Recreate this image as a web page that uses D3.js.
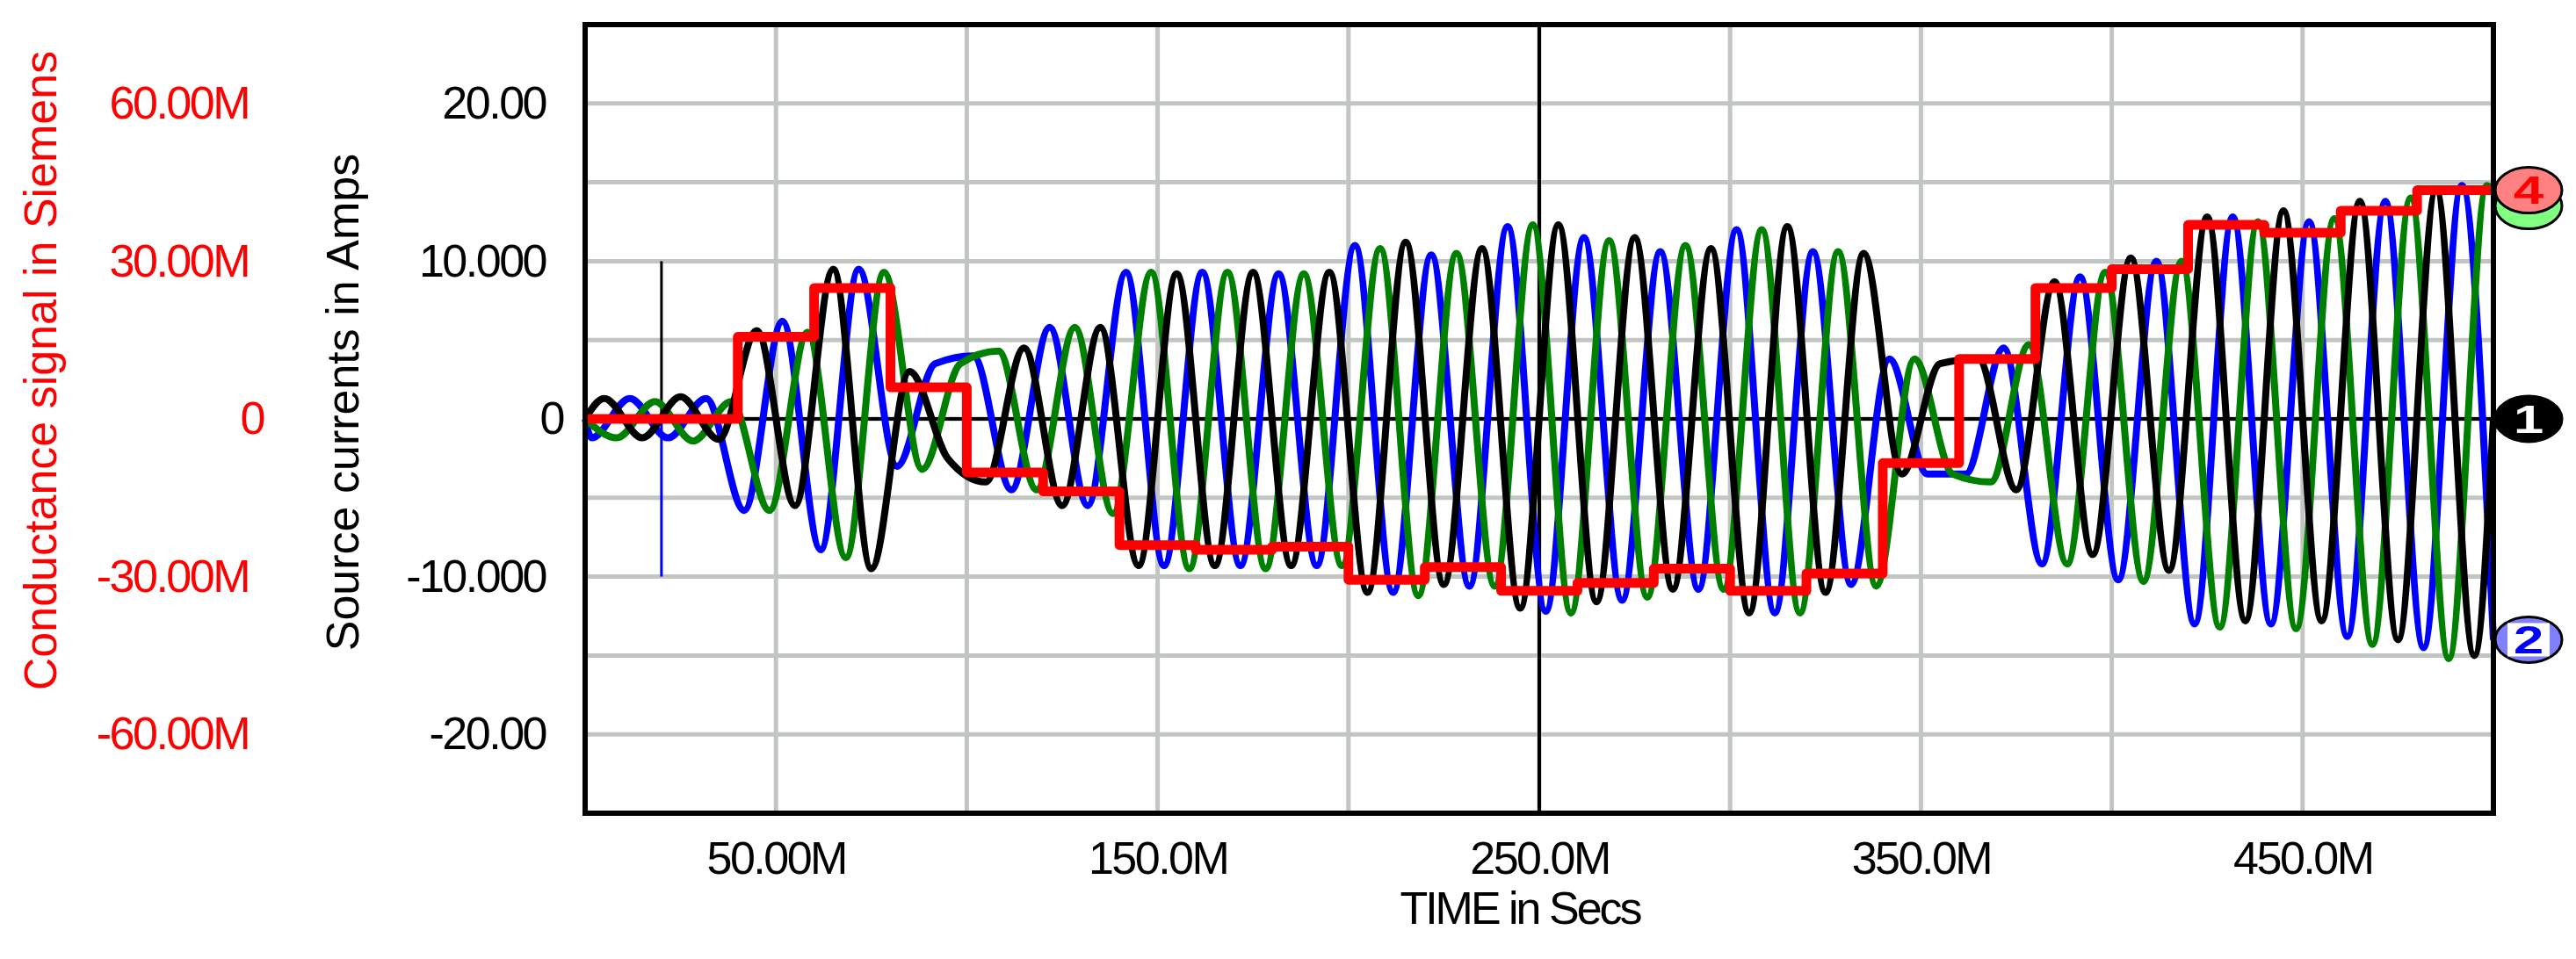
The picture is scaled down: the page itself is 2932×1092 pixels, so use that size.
<!DOCTYPE html>
<html>
<head>
<meta charset="utf-8">
<script src="https://cdn.jsdelivr.net/npm/d3@7"></script>
<style>
  html, body { margin: 0; padding: 0; background: #fff; }
  svg text { font-family: "Liberation Sans", Arial, sans-serif; }
</style>
</head>
<body>
<svg id="chart" width="2932" height="1092"></svg>
<script>
// time in M (milli) seconds, currents in Amps, conductance in M Siemens
const xTicks = [50, 150, 250, 350, 450]
const xTickLabels = ['50.00M', '150.0M', '250.0M', '350.0M', '450.0M']
const yTicks = [20, 10, 0, -10, -20]
const yTickLabels = ['20.00', '10.000', '0', '-10.000', '-20.00']
const gTicks = [60, 30, 0, -30, -60]
const gTickLabels = ['60.00M', '30.00M', '0', '-30.00M', '-60.00M']

// conductance signal steps (start time, level in M Siemens)
const stepTimes = [0, 40, 60, 80, 100, 120, 140, 160, 180, 200, 220, 240, 260, 280, 300, 320, 340, 360, 380, 400, 420, 440, 460, 480, 500]
const stepLevels = [0, 15.6, 24.9, 6, -10.2, -13.8, -24, -24.9, -24.3, -30.6, -28.2, -32.7, -31.2, -28.5, -32.7, -29.4, -8.4, 11.4, 24.9, 28.5, 36.9, 35.4, 39.6, 43.5, 43.5]

// current extremes, one every 10M starting at the given offset
const blackOffset = 5
const blackExtremes = [1.3, -1.2, 1.4, -1.3, 5.6, -5.5, 9.5, -9.5, 3, -2.5,
  -4, 4.5, -5.5, 5.8, -9.3, 9.2, -9.3, 9.3, -9.3, 9.3,
  -11, 11.2, -10.5, 10.8, -12, 12.3, -11.6, 11.5, -10.8, 10.8,
  -12.3, 12.2, -11, 10.5, -3.5, 3.5, 3.8, -4.5, 8.7, -8.6,
  10.2, -9.6, 12.8, -12.8, 13.2, -12.8, 13.8, -14, 14.5, -15]
const blueOffset = 1.7
const blueExtremes = [-1.2, 1.3, -1.2, 1.3, -5.8, 6.2, -8.3, 9.5, -3, 3.5,
  4, -4.5, 5.8, -5.5, 9.3, -9.3, 9.3, -9.3, 9.2, -9.3,
  11, -11, 10.4, -10.6, 12.2, -12.2, 11.5, -11.5, 10.6, -10.8,
  12, -12.3, 10.6, -10.5, 3.8, -3.5, -3.5, 4.5, -9.2, 9.0,
  -10.2, 10, -13, 12.8, -13, 12.5, -13.8, 13.8, -14.5, 14.8]
const greenOffset = 8.3
const greenExtremes = [-1.2, 1.1, -1.4, 1.1, -5.8, 5.5, -8.8, 9.3, -3.2, 3.5,
  4.3, -4.5, 5.8, -6, 9.3, -9.5, 9.3, -9.5, 9.2, -9.3,
  10.8, -11.2, 10.5, -10.6, 12.3, -12.3, 11.3, -11.3, 11, -10.8,
  12, -12.3, 10.6, -10.6, 3.8, -3.5, -4, 4.7, -9.2, 9.3,
  -10.3, 10, -13.2, 12.5, -13.3, 12.7, -14.3, 14, -15.2, 14.8]
const endValues = { blue: -14, green: 14.5, black: 0 }

// switching spikes near 20M
const spikeTime = 20
const spikeBlack = 10
const spikeBlue = -10

const svg = d3.select('#chart')
const box = { left: 666, right: 2838, top: 28, bottom: 926 }

const x = d3.scaleLinear().domain([0, 500]).range([box.left, box.right])
const y = d3.scaleLinear().domain([-25, 25]).range([box.bottom, box.top])
const yG = d3.scaleLinear().domain([-75, 75]).range([box.bottom, box.top])

// grid
const grid = svg.append('g').attr('stroke', '#c2c6c2').attr('stroke-width', 5)
grid.selectAll('line.h').data(d3.range(-20, 21, 5)).join('line')
  .attr('x1', box.left).attr('x2', box.right).attr('y1', y).attr('y2', y)
grid.selectAll('line.v').data(d3.range(50, 500, 50)).join('line')
  .attr('y1', box.top).attr('y2', box.bottom).attr('x1', x).attr('x2', x)

svg.append('line').attr('x1', box.left).attr('x2', box.right).attr('y1', y(0)).attr('y2', y(0))
  .attr('stroke', '#000').attr('stroke-width', 4)
svg.append('line').attr('x1', x(250)).attr('x2', x(250)).attr('y1', box.top).attr('y2', box.bottom)
  .attr('stroke', '#000').attr('stroke-width', 4)

const plot = svg.append('g')

plot.append('line').attr('x1', x(spikeTime)).attr('x2', x(spikeTime))
  .attr('y1', y(0)).attr('y2', y(spikeBlue)).attr('stroke', '#0000ff').attr('stroke-width', 3)
plot.append('line').attr('x1', x(spikeTime)).attr('x2', x(spikeTime))
  .attr('y1', y(0)).attr('y2', y(spikeBlack)).attr('stroke', '#000').attr('stroke-width', 3)

const toPoints = (offset, values, end) => [[0, 0], ...values.map((v, i) => [offset + 10 * i, v]), [500, end]]

const line = d3.line().x(d => x(d[0])).y(d => y(d[1])).curve(d3.curveMonotoneX)

const series = [
  { color: '#0000ff', points: toPoints(blueOffset, blueExtremes, endValues.blue) },
  { color: '#008000', points: toPoints(greenOffset, greenExtremes, endValues.green) },
  { color: '#000000', points: toPoints(blackOffset, blackExtremes, endValues.black) },
]
series.forEach(s => plot.append('path').datum(s.points)
  .attr('d', line).attr('fill', 'none').attr('stroke', s.color)
  .attr('stroke-width', 8).attr('stroke-linejoin', 'round'))

const stepLine = d3.line().x((d, i) => x(stepTimes[i])).y(d => yG(d)).curve(d3.curveStepAfter)
plot.append('path').datum(stepLevels).attr('d', stepLine)
  .attr('fill', 'none').attr('stroke', '#ff0000').attr('stroke-width', 11)
  .attr('stroke-linejoin', 'round')

// frame
svg.append('rect').attr('x', box.left).attr('y', box.top)
  .attr('width', box.right - box.left).attr('height', box.bottom - box.top)
  .attr('fill', 'none').attr('stroke', '#000').attr('stroke-width', 6)

// axes
const styleAxis = (g, color) => {
  g.select('.domain').remove()
  g.selectAll('.tick line').remove()
  g.selectAll('.tick text').attr('fill', color)
    .style('font-size', '52px').style('font-family', '"Liberation Sans", Arial, sans-serif')
    .attr('letter-spacing', -2.5)
}
svg.append('g').attr('transform', `translate(0,${box.bottom})`)
  .call(d3.axisBottom(x).tickValues(xTicks).tickFormat((d, i) => xTickLabels[i]).tickSize(0).tickPadding(32))
  .call(g => styleAxis(g, '#000'))
svg.append('g').attr('transform', 'translate(621,0)')
  .call(d3.axisLeft(y).tickValues(yTicks).tickFormat((d, i) => yTickLabels[i]).tickSize(0).tickPadding(0))
  .call(g => styleAxis(g, '#000'))
  .call(g => g.selectAll('.tick text').attr('dx', d => d === 0 ? 20 : 0))
svg.append('g').attr('transform', 'translate(283,0)')
  .call(d3.axisLeft(yG).tickValues(gTicks).tickFormat((d, i) => gTickLabels[i]).tickSize(0).tickPadding(0))
  .call(g => styleAxis(g, '#ff0000'))
  .call(g => g.selectAll('.tick text').attr('dx', d => d === 0 ? 17 : 0))

// titles
svg.append('text').attr('x', 1730).attr('y', 1052).attr('text-anchor', 'middle')
  .attr('font-size', 52).attr('letter-spacing', -3).text('TIME in Secs')
svg.append('text').attr('transform', 'translate(64,422) rotate(-90)').attr('text-anchor', 'middle')
  .attr('font-size', 52).attr('fill', '#ff0000').text('Conductance signal in Siemens')
svg.append('text').attr('transform', 'translate(408,458) rotate(-90)').attr('text-anchor', 'middle')
  .attr('font-size', 52).attr('fill', '#000').text('Source currents in Amps')

// trace markers at right edge
const markerX = 2878
const markers = [
  { label: '', value: endValues.green, dy: 18, fill: '#80ff80', text: '#008000' },
  { label: '4', value: stepLevels[stepLevels.length - 1] / 3, dy: 0, fill: '#ff8080', text: '#ff0000' },
  { label: '1', value: endValues.black, dy: 0, fill: '#000', text: '#fff' },
  { label: '2', value: endValues.blue, dy: 0, fill: '#8080ff', text: '#0000ff', box: true },
]
markers.forEach(m => {
  const g = svg.append('g').attr('transform', `translate(${markerX},${y(m.value) + m.dy})`)
  g.append('ellipse').attr('rx', 38).attr('ry', 26).attr('fill', m.fill).attr('stroke', '#000').attr('stroke-width', 3)
  if (m.box) g.append('rect').attr('x', -24).attr('y', -19).attr('width', 48).attr('height', 38).attr('fill', '#fff')
  if (m.label) g.append('text').attr('text-anchor', 'middle').attr('dy', '0.36em')
    .attr('font-size', 44).attr('font-weight', 'bold').attr('fill', m.text)
    .attr('transform', 'scale(1.4,1)').text(m.label)
})
</script>
</body>
</html>
